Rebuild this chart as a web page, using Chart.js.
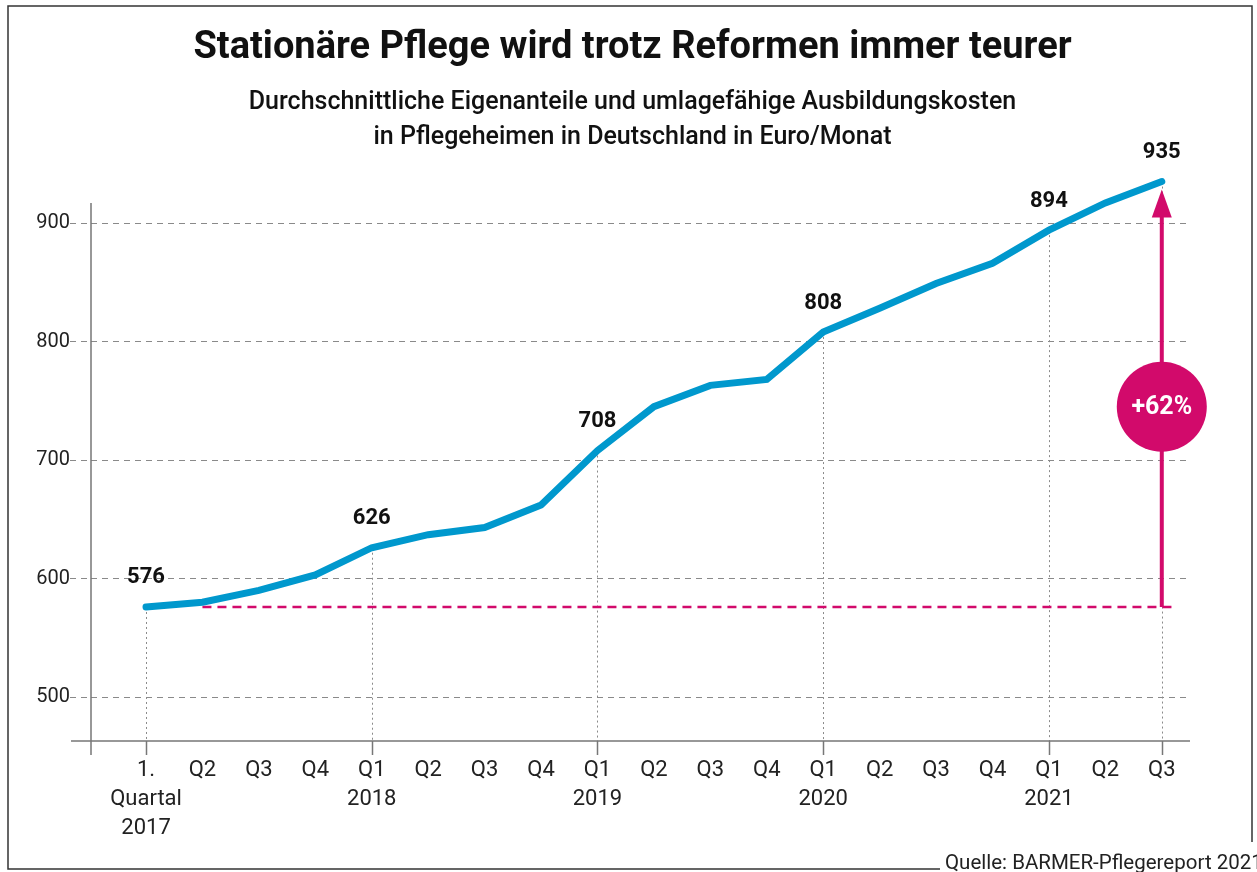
<!DOCTYPE html>
<html>
<head>
<meta charset="utf-8">
<script src="https://cdn.jsdelivr.net/npm/chart.js@4.4.1/dist/chart.umd.min.js"></script>
<style>
  body { margin: 0; background: #fff; }
  canvas { display: block; }
</style>
</head>
<body>
<canvas id="myChart" width="1257" height="872"></canvas>
<script>
// quarters from Q1 2017 to Q3 2021
let quarterLabels = [
  ['1.', 'Quartal', '2017'], 'Q2', 'Q3', 'Q4',
  ['Q1', '2018'], 'Q2', 'Q3', 'Q4',
  ['Q1', '2019'], 'Q2', 'Q3', 'Q4',
  ['Q1', '2020'], 'Q2', 'Q3', 'Q4',
  ['Q1', '2021'], 'Q2', 'Q3'
];
// Euro per month
let costs = [576, 580, 590, 603, 626, 637, 643, 662, 708, 745, 763, 768, 808, 828, 849, 866, 894, 917, 935];
// points that get a value label, a tick and a dotted guide
let labelled = [0, 4, 8, 12, 16, 18];
let yTicks = [500, 600, 700, 800, 900];
let baseValue = 576;
let increaseText = '+62%';

const blue = '#0098cd';
const pink = '#d20a6b';
const font = 'Roboto';

// extra drawing: axes, guides, baseline, arrow, labels, frame
const decor = {
  id: 'decor',
  beforeDatasetsDraw(chart) {
    const {ctx, chartArea: a, scales: {x, y}} = chart;
    const pts = chart.getDatasetMeta(0).data;
    ctx.save();
    // dotted guides
    ctx.strokeStyle = '#8a8a8a';
    ctx.lineWidth = 1;
    ctx.setLineDash([2, 3]);
    labelled.forEach(i => {
      ctx.beginPath();
      ctx.moveTo(Math.round(pts[i].x) + 0.5, pts[i].y);
      ctx.lineTo(Math.round(pts[i].x) + 0.5, a.bottom);
      ctx.stroke();
    });
    // axis lines
    ctx.setLineDash([]);
    ctx.strokeStyle = '#777';
    ctx.lineWidth = 1.5;
    ctx.beginPath();
    ctx.moveTo(a.left, a.top);
    ctx.lineTo(a.left, a.bottom + 14);
    ctx.moveTo(a.left - 20, a.bottom);
    ctx.lineTo(a.right, a.bottom);
    labelled.forEach(i => {
      ctx.moveTo(Math.round(pts[i].x) + 0.5, a.bottom);
      ctx.lineTo(Math.round(pts[i].x) + 0.5, a.bottom + 14);
    });
    ctx.stroke();
    // pink dashed baseline
    const by = y.getPixelForValue(baseValue);
    ctx.strokeStyle = pink;
    ctx.lineWidth = 2.5;
    ctx.setLineDash([9, 6]);
    ctx.beginPath();
    ctx.moveTo(x.getPixelForValue(1), by);
    ctx.lineTo(x.getPixelForValue(costs.length - 1) + 11, by);
    ctx.stroke();
    ctx.restore();
  },
  afterDatasetsDraw(chart) {
    const {ctx, scales: {x, y}} = chart;
    const pts = chart.getDatasetMeta(0).data;
    const last = costs.length - 1;
    const ax = x.getPixelForValue(last);
    const by = y.getPixelForValue(baseValue);
    const tip = y.getPixelForValue(costs[last]) + 8;
    ctx.save();
    // arrow
    ctx.strokeStyle = pink;
    ctx.fillStyle = pink;
    ctx.lineWidth = 4;
    ctx.beginPath();
    ctx.moveTo(ax, by);
    ctx.lineTo(ax, tip + 26);
    ctx.stroke();
    ctx.beginPath();
    ctx.moveTo(ax, tip);
    ctx.lineTo(ax - 10, tip + 28);
    ctx.lineTo(ax + 10, tip + 28);
    ctx.closePath();
    ctx.fill();
    // circle with percentage
    const cy = y.getPixelForValue(745);
    ctx.beginPath();
    ctx.arc(ax, cy, 45, 0, Math.PI * 2);
    ctx.fill();
    ctx.fillStyle = '#fff';
    ctx.font = 'bold 25px ' + font;
    ctx.textAlign = 'center';
    ctx.textBaseline = 'middle';
    ctx.fillText(increaseText, ax, cy + 1);
    // value labels
    ctx.fillStyle = '#111';
    ctx.font = 'bold 22px ' + font;
    labelled.forEach(i => {
      ctx.fillText(costs[i], pts[i].x, pts[i].y - 29);
    });
    ctx.restore();
  },
  afterDraw(chart) {
    const {ctx} = chart;
    ctx.save();
    ctx.strokeStyle = '#333';
    ctx.lineWidth = 1.5;
    ctx.beginPath();
    ctx.moveTo(940, 869);
    ctx.lineTo(8, 869);
    ctx.lineTo(8, 6);
    ctx.lineTo(1252, 6);
    ctx.lineTo(1252, 842);
    ctx.stroke();
    ctx.fillStyle = '#222';
    ctx.font = '20.5px ' + font;
    ctx.textAlign = 'left';
    ctx.textBaseline = 'alphabetic';
    ctx.fillText('Quelle: BARMER-Pflegereport 2021', 945, 869);
    ctx.restore();
  }
};

let ctx = document.getElementById('myChart').getContext('2d');

var chart = new Chart(ctx, {
  type: 'line',
  data: {
    datasets: [{
      label: 'Eigenanteile',
      data: costs.map((v, i) => ({x: i, y: v})),
      borderColor: blue,
      borderWidth: 7,
      borderCapStyle: 'round',
      pointRadius: 0,
      tension: 0,
      fill: false,
      clip: false,
    }],
  },
  options: {
    responsive: false,
    animation: false,
    events: [],
    layout: {padding: {left: 8, right: 0, top: 0, bottom: 31}},
    plugins: {
      legend: {display: false},
      tooltip: {enabled: false},
      title: {
        display: true,
        text: 'Stationäre Pflege wird trotz Reformen immer teurer',
        color: '#111',
        font: {family: font, size: 38, weight: 'bold', lineHeight: 1.2},
        padding: {top: 26, bottom: 14},
      },
      subtitle: {
        display: true,
        text: ['Durchschnittliche Eigenanteile und umlagefähige Ausbildungskosten',
               'in Pflegeheimen in Deutschland in Euro/Monat'],
        color: '#111',
        font: {family: font, size: 25, weight: 500, lineHeight: 1.4},
        padding: {top: 0, bottom: 47.4},
      },
    },
    scales: {
      x: {
        type: 'linear',
        min: -0.975,
        max: 18.5,
        afterBuildTicks: s => { s.ticks = quarterLabels.map((l, i) => ({value: i})); },
        afterFit: s => { s.height = 100; },
        grid: {display: false, drawTicks: false},
        border: {display: false},
        ticks: {
          autoSkip: false,
          maxRotation: 0,
          padding: 14.5,
          color: '#222',
          font: {family: font, size: 22, lineHeight: 1.32},
          callback: v => quarterLabels[v],
        },
      },
      y: {
        min: 462.9,
        max: 916.9,
        afterBuildTicks: s => { s.ticks = yTicks.map(v => ({value: v})); },
        afterFit: s => { s.width = 83; },
        border: {display: false, dash: [6, 5]},
        grid: {
          color: '#8a8a8a',
          lineWidth: 1,
          tickLength: 21,
          tickColor: '#8a8a8a',
          tickBorderDash: [6, 5],
        },
        ticks: {
          padding: 0,
          color: '#222',
          font: {family: font, size: 20},
        },
      },
      // empty right axis to keep the space right of the plot
      r: {
        type: 'linear',
        position: 'right',
        afterFit: s => { s.width = 67; },
        grid: {display: false},
        border: {display: false},
        ticks: {display: false},
      },
    },
  },
  plugins: [decor],
});
</script>
</body>
</html>
